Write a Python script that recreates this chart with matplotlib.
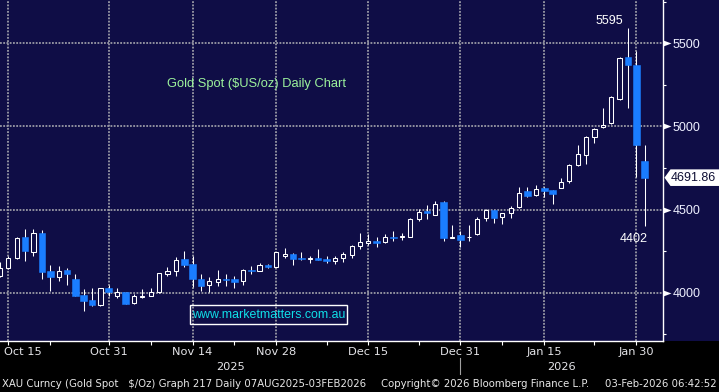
import matplotlib
matplotlib.use("Agg")
import matplotlib.pyplot as plt
import matplotlib.transforms as mtransforms
from matplotlib.patches import Polygon, Rectangle
import numpy as np

# daily XAU candles, 14 Oct 2025 .. 2 Feb 2026
dates = [
    "Oct 14", "Oct 15", "Oct 16", "Oct 17", "Oct 20", "Oct 21", "Oct 22", "Oct 23",
    "Oct 24", "Oct 27", "Oct 28", "Oct 29", "Oct 30", "Oct 31", "Nov 3", "Nov 4",
    "Nov 5", "Nov 6", "Nov 7", "Nov 10", "Nov 11", "Nov 12", "Nov 13", "Nov 14",
    "Nov 17", "Nov 18", "Nov 19", "Nov 20", "Nov 21", "Nov 24", "Nov 25", "Nov 26",
    "Nov 27", "Nov 28", "Dec 1", "Dec 2", "Dec 3", "Dec 4", "Dec 5", "Dec 8",
    "Dec 9", "Dec 10", "Dec 11", "Dec 12", "Dec 15", "Dec 16", "Dec 17", "Dec 18",
    "Dec 19", "Dec 22", "Dec 23", "Dec 24", "Dec 26", "Dec 29", "Dec 30", "Dec 31",
    "Jan 2", "Jan 5", "Jan 6", "Jan 7", "Jan 8", "Jan 9", "Jan 12", "Jan 13",
    "Jan 14", "Jan 15", "Jan 16", "Jan 19", "Jan 20", "Jan 21", "Jan 22", "Jan 23",
    "Jan 26", "Jan 27", "Jan 28", "Jan 29", "Jan 30", "Feb 2",
]
opens = [
    4102, 4146, 4206, 4334, 4242, 4358, 4128, 4096, 4136, 4082, 3986, 3956, 3928, 4026,
    3982, 4002, 3936, 3976, 3978, 4002, 4114, 4128, 4202, 4172, 4082, 4046, 4066, 4082,
    4082, 4068, 4136, 4132, 4166, 4156, 4222, 4232, 4208, 4202, 4206, 4202, 4192, 4210,
    4228, 4278, 4296, 4310, 4302, 4338, 4336, 4336, 4442, 4492, 4468, 4546, 4330, 4346,
    4332, 4352, 4448, 4496, 4458, 4478, 4516, 4610, 4588, 4628, 4616, 4632, 4672, 4766,
    4830, 4938, 4998, 5018, 5166, 5418, 5372, 4790,
]
highs = [
    4184, 4218, 4332, 4382, 4382, 4376, 4166, 4158, 4146, 4112, 4022, 4030, 4030, 4046,
    4030, 4004, 3992, 4022, 4026, 4118, 4152, 4212, 4252, 4218, 4112, 4092, 4138, 4112,
    4102, 4142, 4162, 4178, 4172, 4246, 4266, 4238, 4246, 4222, 4262, 4218, 4222, 4246,
    4286, 4358, 4352, 4338, 4352, 4372, 4362, 4452, 4502, 4526, 4550, 4550, 4406, 4372,
    4406, 4458, 4502, 4498, 4482, 4522, 4634, 4634, 4646, 4638, 4616, 4692, 4772, 4886,
    4942, 4992, 5108, 5186, 5418, 5595, 5452, 4888,
]
lows = [
    4094, 4142, 4202, 4192, 4222, 4082, 4012, 4072, 4046, 3978, 3892, 3922, 3922, 3982,
    3968, 3930, 3932, 3968, 3978, 4000, 4102, 4102, 4152, 4032, 4012, 4002, 4042, 4042,
    4028, 4048, 4112, 4128, 4148, 4152, 4206, 4168, 4196, 4178, 4196, 4178, 4172, 4186,
    4208, 4262, 4286, 4276, 4296, 4312, 4316, 4332, 4432, 4446, 4466, 4312, 4330, 4272,
    4312, 4346, 4432, 4422, 4412, 4452, 4512, 4576, 4582, 4578, 4536, 4628, 4662, 4762,
    4776, 4902, 4992, 5012, 5158, 5112, 4698, 4402,
]
closes = [
    4146, 4206, 4326, 4252, 4358, 4126, 4096, 4128, 4114, 3982, 3952, 3928, 4026, 4002,
    4002, 3932, 3978, 3982, 4002, 4116, 4130, 4196, 4168, 4082, 4042, 4070, 4082, 4078,
    4066, 4136, 4130, 4166, 4154, 4242, 4232, 4202, 4204, 4208, 4198, 4192, 4208, 4232,
    4278, 4302, 4310, 4300, 4338, 4328, 4342, 4446, 4486, 4478, 4532, 4328, 4338, 4316,
    4336, 4446, 4496, 4452, 4478, 4512, 4598, 4582, 4626, 4610, 4592, 4668, 4766, 4832,
    4936, 4986, 5006, 5178, 5412, 5368, 4888, 4691.86,
]

date_ticks = ["Oct 15", "Oct 31", "Nov 14", "Nov 28", "Dec 15", "Dec 31", "Jan 15", "Jan 30"]
minor_dates = ["Oct 22", "Nov 7", "Nov 21", "Dec 8", "Dec 23", "Jan 8", "Jan 23"]
price_ticks = [4000, 4500, 5000, 5500]
price_minor = [3750, 4250, 4750, 5250, 5750]
year_labels = ["2025", "2026"]

NAVY = "#0f0d46"
BLUE = "#1a7dff"
GRID = "#9a9aa6"
W, H = 719, 392

o = np.array(opens, dtype=float)
h = np.array(highs, dtype=float)
l = np.array(lows, dtype=float)
c = np.array(closes, dtype=float)
x = np.arange(len(dates))
up = c >= o

fig = plt.figure(figsize=(W / 100, H / 100), dpi=100, facecolor="black")
fig.add_artist(Rectangle((0, 51 / H), 1, 341 / H, transform=fig.transFigure,
                         facecolor=NAVY, edgecolor="none", zorder=-5))
ax = fig.add_axes([0, 51 / H, 662.5 / W, 341 / H])
ax.set_facecolor(NAVY)
ax.set_xlim(0.0, 79.13)
ax.set_ylim(3709.5, 5760.4)

# candles
ax.vlines(x, l, h, color="white", lw=0.75, zorder=2)
ax.bar(x[~up], (c - o)[~up], bottom=o[~up], width=0.8, color=BLUE,
       edgecolor=BLUE, lw=0.4, zorder=3)
ax.bar(x[up], (c - o)[up], bottom=o[up], width=0.5, facecolor=NAVY,
       edgecolor="white", lw=0.75, zorder=3)

# axes / grid
ax.set_axisbelow(True)
ax.grid(True, color=GRID, ls=(0, (1, 0.8)), lw=1.3)
for s in ["top", "left"]:
    ax.spines[s].set_visible(False)
for s in ["right", "bottom"]:
    ax.spines[s].set_color("white")
    ax.spines[s].set_linewidth(1.0)

ax.set_xticks([dates.index(d) for d in date_ticks], date_ticks)
ax.set_xticks([dates.index(d) for d in minor_dates], minor=True)
ax.tick_params(axis="x", which="both", length=3, width=0.8, color="white",
               direction="out", pad=1.5, labelsize=8.2, labelcolor="#e4e4e8")
first = ax.get_xticklabels()[0]
first.set_horizontalalignment("left")
first.set_transform(first.get_transform()
                    + mtransforms.ScaledTranslation(-4.6 / 100, 0, fig.dpi_scale_trans))

ax.yaxis.tick_right()
ax.set_yticks(price_ticks, [str(p) for p in price_ticks])
ax.set_yticks(price_minor, minor=True)
ax.tick_params(axis="y", which="major", length=0, pad=7.2, labelsize=9,
               labelcolor="#eef0ff")
ax.tick_params(axis="y", which="minor", length=2.5, width=0.8, color="white",
               direction="out")
for lbl in ax.get_yticklabels():
    lbl.set_fontfamily("Liberation Sans")

tri = [(0, -3), (0, 3), (8, 0)]
yblend = mtransforms.blended_transform_factory(ax.transAxes, ax.transData)
ax.plot([1] * len(price_ticks), price_ticks, transform=yblend, marker=tri, ms=11.5,
        mew=0, color="white", ls="none", clip_on=False, zorder=6)

# annotations
ax.annotate("5595", xy=(dates.index("Jan 29"), max(highs)), xytext=(-3.5, 0.5),
            textcoords="offset points", ha="right", va="bottom", color="white",
            fontsize=9, family="Liberation Sans")
ax.annotate("4402", xy=(len(dates) - 1, min(lows[-3:])), xytext=(2, -5),
            textcoords="offset points", ha="right", va="top", color="white",
            fontsize=9, family="Liberation Sans")

ax.text(0.252, 0.7537, "Gold Spot ($US/oz) Daily Chart", transform=ax.transAxes,
        color="#9cf29c", fontsize=9.3, family="Liberation Sans", va="center", ha="left")
ax.add_patch(Rectangle((0.2872, 0.0507), 0.237, 0.054, transform=ax.transAxes,
                       fill=False, edgecolor="white", lw=1.0, zorder=4))
ax.text(0.4057, 0.0777, "www.marketmatters.com.au", transform=ax.transAxes,
        color="#10e0e8", fontsize=8.9, family="Liberation Sans", va="center",
        ha="center", zorder=5)

# last price flag
fig.canvas.draw()
xa, yc = ax.transData.transform((ax.get_xlim()[1], closes[-1]))
pts = [(xa + 2, yc), (xa + 8, yc + 8.3), (W + 2, yc + 8.3), (W + 2, yc - 8.3),
       (xa + 8, yc - 8.3)]
fpts = fig.transFigure.inverted().transform(pts)
fig.add_artist(Polygon(fpts, closed=True, transform=fig.transFigure,
                       facecolor="white", edgecolor="none", zorder=10))
fig.text((xa + 8.5) / W, yc / H, f"{closes[-1]:.2f}", color="#101035", fontsize=9,
         family="Liberation Sans", va="center", ha="left", zorder=11)

# year row and footer
xblend = mtransforms.blended_transform_factory(ax.transData, fig.transFigure)
split = dates.index("Dec 31")
ax.plot([split, split], [1 - 358 / H, 1 - 374 / H], transform=xblend, color="#a0a0a0",
        lw=0.8, clip_on=False)
xmax = ax.get_xlim()[1]
for label, xc in zip(year_labels, [(0 + split) / 2, (split + xmax) / 2]):
    ax.text(xc, 1 - 367 / H, label, transform=xblend, ha="center", va="center",
            color="#e4e4e8", fontsize=8.2)

fy = 1 - 384 / H
fig.text(2 / W, fy, "XAU Curncy (Gold Spot   $/Oz) Graph 217 Daily 07AUG2025-03FEB2026",
         color="#e8e8e8", fontsize=7.3, va="center", ha="left")
fig.text(381 / W, fy, "Copyright\u00a9 2026 Bloomberg Finance L.P.",
         color="#e8e8e8", fontsize=7.3, va="center", ha="left")
fig.text(717 / W, fy, "03-Feb-2026 06:42:52", color="#e8e8e8", fontsize=7.3,
         va="center", ha="right")

fig.savefig("out.png", dpi=100, facecolor=fig.get_facecolor())
